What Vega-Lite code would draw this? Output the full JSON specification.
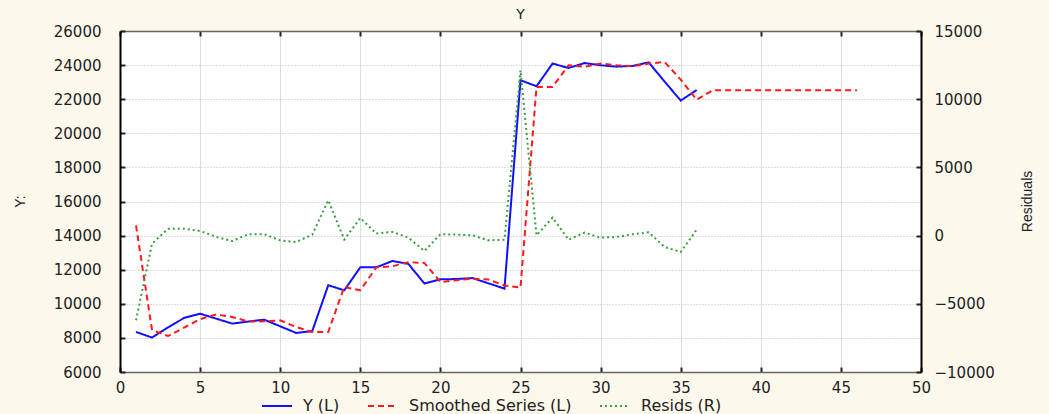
{
  "$schema": "https://vega.github.io/schema/vega-lite/v6.json",
  "width": 801,
  "height": 341,
  "autosize": {"type": "none"},
  "padding": {"left": 120, "top": 31, "right": 128, "bottom": 42},
  "background": "#fdf8ec",
  "title": {"text": "Y", "font": "DejaVu Sans", "fontSize": 14, "fontWeight": "normal", "color": "#222222", "offset": 2},
  "config": {
    "view": {"fill": "white", "stroke": null},
    "axis": {"labelFont": "DejaVu Sans", "labelFontSize": 15, "labelColor": "#222222", "tickColor": "#222222", "tickWidth": 2, "tickSize": -5, "labelFlush": false, "labelOverlap": false, "format": "d"}
  },
  "data": {
    "values": [
      {"x": 1, "s": "Y (L)", "v": 8350}, {"x": 2, "s": "Y (L)", "v": 8020}, {"x": 3, "s": "Y (L)", "v": 8620}, {"x": 4, "s": "Y (L)", "v": 9170},
      {"x": 5, "s": "Y (L)", "v": 9420}, {"x": 6, "s": "Y (L)", "v": 9130}, {"x": 7, "s": "Y (L)", "v": 8840}, {"x": 8, "s": "Y (L)", "v": 8960},
      {"x": 9, "s": "Y (L)", "v": 9070}, {"x": 10, "s": "Y (L)", "v": 8680}, {"x": 11, "s": "Y (L)", "v": 8290}, {"x": 12, "s": "Y (L)", "v": 8400},
      {"x": 13, "s": "Y (L)", "v": 11090}, {"x": 14, "s": "Y (L)", "v": 10790}, {"x": 15, "s": "Y (L)", "v": 12140}, {"x": 16, "s": "Y (L)", "v": 12140},
      {"x": 17, "s": "Y (L)", "v": 12510}, {"x": 18, "s": "Y (L)", "v": 12340}, {"x": 19, "s": "Y (L)", "v": 11190}, {"x": 20, "s": "Y (L)", "v": 11440},
      {"x": 21, "s": "Y (L)", "v": 11450}, {"x": 22, "s": "Y (L)", "v": 11510}, {"x": 23, "s": "Y (L)", "v": 11200}, {"x": 24, "s": "Y (L)", "v": 10890},
      {"x": 25, "s": "Y (L)", "v": 23110}, {"x": 26, "s": "Y (L)", "v": 22760}, {"x": 27, "s": "Y (L)", "v": 24090}, {"x": 28, "s": "Y (L)", "v": 23830},
      {"x": 29, "s": "Y (L)", "v": 24120}, {"x": 30, "s": "Y (L)", "v": 23990}, {"x": 31, "s": "Y (L)", "v": 23910}, {"x": 32, "s": "Y (L)", "v": 23950},
      {"x": 33, "s": "Y (L)", "v": 24160}, {"x": 34, "s": "Y (L)", "v": 23030}, {"x": 35, "s": "Y (L)", "v": 21920}, {"x": 36, "s": "Y (L)", "v": 22540},

      {"x": 1, "s": "Smoothed Series (L)", "v": 14600}, {"x": 2, "s": "Smoothed Series (L)", "v": 8450}, {"x": 3, "s": "Smoothed Series (L)", "v": 8110},
      {"x": 4, "s": "Smoothed Series (L)", "v": 8600}, {"x": 5, "s": "Smoothed Series (L)", "v": 9100}, {"x": 6, "s": "Smoothed Series (L)", "v": 9370},
      {"x": 7, "s": "Smoothed Series (L)", "v": 9230}, {"x": 8, "s": "Smoothed Series (L)", "v": 8960}, {"x": 9, "s": "Smoothed Series (L)", "v": 8970},
      {"x": 10, "s": "Smoothed Series (L)", "v": 9030}, {"x": 11, "s": "Smoothed Series (L)", "v": 8640}, {"x": 12, "s": "Smoothed Series (L)", "v": 8350},
      {"x": 13, "s": "Smoothed Series (L)", "v": 8350}, {"x": 14, "s": "Smoothed Series (L)", "v": 10990}, {"x": 15, "s": "Smoothed Series (L)", "v": 10790},
      {"x": 16, "s": "Smoothed Series (L)", "v": 12140}, {"x": 17, "s": "Smoothed Series (L)", "v": 12200}, {"x": 18, "s": "Smoothed Series (L)", "v": 12440},
      {"x": 19, "s": "Smoothed Series (L)", "v": 12400}, {"x": 20, "s": "Smoothed Series (L)", "v": 11280}, {"x": 21, "s": "Smoothed Series (L)", "v": 11380},
      {"x": 22, "s": "Smoothed Series (L)", "v": 11480}, {"x": 23, "s": "Smoothed Series (L)", "v": 11420}, {"x": 24, "s": "Smoothed Series (L)", "v": 11070},
      {"x": 25, "s": "Smoothed Series (L)", "v": 10950}, {"x": 26, "s": "Smoothed Series (L)", "v": 22720}, {"x": 27, "s": "Smoothed Series (L)", "v": 22720},
      {"x": 28, "s": "Smoothed Series (L)", "v": 23990}, {"x": 29, "s": "Smoothed Series (L)", "v": 23900}, {"x": 30, "s": "Smoothed Series (L)", "v": 24090},
      {"x": 31, "s": "Smoothed Series (L)", "v": 23990}, {"x": 32, "s": "Smoothed Series (L)", "v": 23930}, {"x": 33, "s": "Smoothed Series (L)", "v": 24090},
      {"x": 34, "s": "Smoothed Series (L)", "v": 24180}, {"x": 35, "s": "Smoothed Series (L)", "v": 23150}, {"x": 36, "s": "Smoothed Series (L)", "v": 21970},
      {"x": 37, "s": "Smoothed Series (L)", "v": 22520}, {"x": 38, "s": "Smoothed Series (L)", "v": 22520}, {"x": 39, "s": "Smoothed Series (L)", "v": 22520},
      {"x": 40, "s": "Smoothed Series (L)", "v": 22520}, {"x": 41, "s": "Smoothed Series (L)", "v": 22520}, {"x": 42, "s": "Smoothed Series (L)", "v": 22520},
      {"x": 43, "s": "Smoothed Series (L)", "v": 22520}, {"x": 44, "s": "Smoothed Series (L)", "v": 22520}, {"x": 45, "s": "Smoothed Series (L)", "v": 22520},
      {"x": 46, "s": "Smoothed Series (L)", "v": 22520},

      {"x": 1, "s": "Resids (R)", "v": -6210}, {"x": 2, "s": "Resids (R)", "v": -590}, {"x": 3, "s": "Resids (R)", "v": 510}, {"x": 4, "s": "Resids (R)", "v": 510},
      {"x": 5, "s": "Resids (R)", "v": 340}, {"x": 6, "s": "Resids (R)", "v": -100}, {"x": 7, "s": "Resids (R)", "v": -400}, {"x": 8, "s": "Resids (R)", "v": 100},
      {"x": 9, "s": "Resids (R)", "v": 100}, {"x": 10, "s": "Resids (R)", "v": -350}, {"x": 11, "s": "Resids (R)", "v": -470}, {"x": 12, "s": "Resids (R)", "v": 70},
      {"x": 13, "s": "Resids (R)", "v": 2590}, {"x": 14, "s": "Resids (R)", "v": -290}, {"x": 15, "s": "Resids (R)", "v": 1290}, {"x": 16, "s": "Resids (R)", "v": 150},
      {"x": 17, "s": "Resids (R)", "v": 270}, {"x": 18, "s": "Resids (R)", "v": -150}, {"x": 19, "s": "Resids (R)", "v": -1130}, {"x": 20, "s": "Resids (R)", "v": 100},
      {"x": 21, "s": "Resids (R)", "v": 70}, {"x": 22, "s": "Resids (R)", "v": 20}, {"x": 23, "s": "Resids (R)", "v": -350}, {"x": 24, "s": "Resids (R)", "v": -300},
      {"x": 25, "s": "Resids (R)", "v": 12120}, {"x": 26, "s": "Resids (R)", "v": 20}, {"x": 27, "s": "Resids (R)", "v": 1320}, {"x": 28, "s": "Resids (R)", "v": -300},
      {"x": 29, "s": "Resids (R)", "v": 220}, {"x": 30, "s": "Resids (R)", "v": -150}, {"x": 31, "s": "Resids (R)", "v": -100}, {"x": 32, "s": "Resids (R)", "v": 100},
      {"x": 33, "s": "Resids (R)", "v": 240}, {"x": 34, "s": "Resids (R)", "v": -840}, {"x": 35, "s": "Resids (R)", "v": -1200}, {"x": 36, "s": "Resids (R)", "v": 440}
    ]
  },
  "layer": [
    {
      "transform": [{"filter": "datum.s != 'Resids (R)'"}],
      "mark": {"type": "line", "strokeWidth": 2},
      "encoding": {
        "x": {
          "field": "x", "type": "quantitative",
          "scale": {"domain": [0, 50], "nice": false, "zero": false},
          "axis": {"orient": "bottom", "title": null, "values": [0, 5, 10, 15, 20, 25, 30, 35, 40, 45, 50], "grid": true, "gridColor": "#dddddd", "gridWidth": 1, "labelPadding": 13, "domainColor": "#666666", "domainWidth": 1.5}
        },
        "y": {
          "field": "v", "type": "quantitative",
          "scale": {"domain": [6000, 26000], "nice": false, "zero": false},
          "axis": {"orient": "left", "title": "Y:", "values": [6000, 8000, 10000, 12000, 14000, 16000, 18000, 20000, 22000, 24000, 26000], "grid": true, "gridColor": "#bbbbbb", "gridDash": [1, 2], "gridWidth": 1, "labelPadding": 24, "domainColor": "#000000", "domainWidth": 2, "titleFont": "Liberation Sans", "titleFontSize": 14, "titleFontWeight": "normal", "titleColor": "#222222", "titleAngle": -90, "titleBaseline": "bottom", "titleX": -93, "titleY": 170}
        },
        "color": {
          "field": "s", "type": "nominal",
          "scale": {"domain": ["Y (L)", "Smoothed Series (L)", "Resids (R)"], "range": ["#1010ff", "#ff1a1a", "#3a9e3a"]},
          "legend": {"orient": "none", "legendX": 141, "legendY": 359, "direction": "horizontal", "title": null, "symbolType": "stroke", "symbolSize": 900, "symbolStrokeWidth": 2, "labelFont": "DejaVu Sans", "labelFontSize": 16, "labelColor": "#222222", "labelOffset": 10, "labelLimit": 400, "columnPadding": 24}
        },
        "strokeDash": {
          "field": "s", "type": "nominal",
          "scale": {"domain": ["Y (L)", "Smoothed Series (L)", "Resids (R)"], "range": [[1, 0], [6, 4], [2, 3]]},
          "legend": {"orient": "none", "legendX": 141, "legendY": 359, "direction": "horizontal", "title": null, "symbolType": "stroke", "symbolSize": 900, "symbolStrokeWidth": 2, "labelFont": "DejaVu Sans", "labelFontSize": 16, "labelColor": "#222222", "labelOffset": 10, "labelLimit": 400, "columnPadding": 24}
        }
      }
    },
    {
      "transform": [{"filter": "datum.s == 'Resids (R)'"}],
      "mark": {"type": "line", "strokeWidth": 2},
      "encoding": {
        "x": {
          "field": "x", "type": "quantitative",
          "scale": {"domain": [0, 50], "nice": false, "zero": false},
          "axis": {"orient": "top", "title": null, "values": [0, 5, 10, 15, 20, 25, 30, 35, 40, 45, 50], "labels": false, "grid": false, "domainColor": "#666666", "domainWidth": 1.5}
        },
        "y": {
          "field": "v", "type": "quantitative",
          "scale": {"domain": [-10000, 15000], "nice": false, "zero": false},
          "axis": {"orient": "right", "title": "Residuals", "values": [-10000, -5000, 0, 5000, 10000, 15000], "grid": false, "labelPadding": 18, "domainColor": "#000000", "domainWidth": 2, "titleFont": "Liberation Sans", "titleFontSize": 14, "titleFontWeight": "normal", "titleColor": "#222222", "titleAngle": -90, "titleBaseline": "bottom", "titleX": 113, "titleY": 170}
        },
        "color": {"field": "s", "type": "nominal"},
        "strokeDash": {"field": "s", "type": "nominal"}
      }
    }
  ],
  "resolve": {"scale": {"y": "independent"}, "axis": {"x": "independent"}}
}
